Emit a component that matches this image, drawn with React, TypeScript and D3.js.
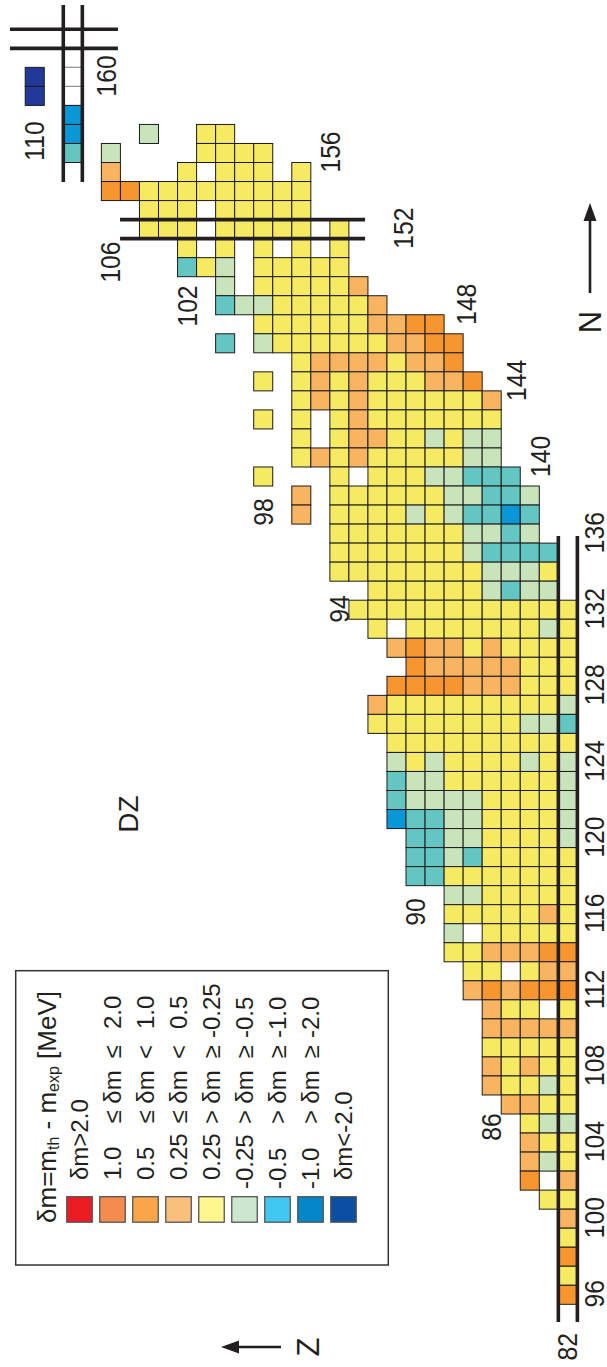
import React, { useEffect } from 'react';
import * as d3 from 'd3';

// ---------- data ----------
// rows of the nuclide chart: neutron number, highest proton number in the row string,
// and one code per proton number going down (Z0, Z0-1, ...). '.' = no cell
const ROW_N = [161,160,159,158,157,156,155,154,153,152,151,150,149,148,147,146,145,144,143,142,141,140,139,138,137,136,135,134,133,132,131,130,129,128,127,126,125,124,123,122,121,120,119,118,117,116,115,114,113,112,111,110,109,108,107,106,105,104,103,102,101,100,99,98,97,96];
const ROW_FIRST_Z = [108,110,110,108,108,108,106,106,104,104,102,102,100,100,98,100,96,98,96,98,96,96,98,96,96,94,94,94,92,93,92,91,90,91,92,92,91,91,91,91,91,90,90,90,88,88,88,88,87,87,86,86,86,86,86,85,84,84,84,84,83,82,82,82,82,82];
const ROW_CODES = [
  'w','d.w','d.w','b','b...g..yy','t.g....yyyy','l...y.yyy.y','ooyyyyyyyyy','yyy.yyyyy','yyy.yyyyy.y',
  'y.y.y.y.y','tyg.yyyyy','g.yyyyyl','tggyyyyyl','yyyyyylloo','t.gyyyyyylloo','yllllyllo','y.ylylyyyllo',
  'ylylyyyyyyl','y.y.ylyyyyyyy','y.yllyygygg','ylylyyyyygg','y...y.yyyggttt','l.yyyyyyggttg','l.yyyygygttbt',
  'yyyyyyyggtg','yyyyyyygtttt','yyyyyyyygggy','yyyyyygtgg','yyyyyyyyyyyy','y.yyyyyyygy','lollylyyyy',
  'olllllyyy','oooolllyyy','lyyyyyyyyyg','yyyyyyyyggt','yyyyyyyyyy','gygyyyygyg','tggyyyyyyg','tggggyyyyg',
  'bttggyyyyg','ttggyyyyg','ttgtyyyyy','ttyyyyyyy','ggyyyyy','yyyyyly','g.yyyyy','yyllloo','yy.yll','lolooo',
  'lyy.y','lllll','yyyyy','lylyy','lyygy','llyy','ygg','lyy','lgy','o.l','yy','l','y','o','y','o'
];
const CATEGORY_KEYS = ['o','l','y','g','t','b','d','w'];
const CATEGORY_FILLS = ['#f7962f','#f9b462','#f5ea62','#c9e3ba','#63c6c2','#0a97d8','#22399a','#ffffff'];

// magic-number double lines: kind, value, extent (in the other coordinate)
const MAGIC_KIND = ['z','n','z','n'];
const MAGIC_VALUE = [82,152,108,162];
const MAGIC_FROM = [135.37,105.02,163.28,110.8];
const MAGIC_TO = [94.07,92.15,153.98,105.13];

// tick labels
const Z_LABELS = [82,86,90,94,98,102,106,110];
const Z_LABEL_AT_N = [93.27,104.82,116.11,132.04,137.13,147.96,150.27,156.63];
const N_LABELS = [96,100,104,108,112,116,120,124,128,132,136,140,144,148,152,156,160];
const N_LABEL_AT_Z = [80.6,80.6,80.6,80.6,80.6,80.6,80.6,80.6,80.6,80.6,80.6,83.43,84.69,87.35,90.66,94.49,106.22];

// legend
const LEGEND_FILLS = ['#ec1c24','#f58b4c','#f9a64a','#fbbf7d','#fff68e','#cde6cf','#40c8f2','#0586c8','#0b4ea2'];
const LEGEND_SINGLE = ['δm>2.0','','','','','','','','δm<-2.0'];
const LEGEND_LOW = ['','1.0','0.5','0.25','0.25','-0.25','-0.5','-1.0',''];
const LEGEND_OP1 = ['','≤','≤','≤','>','>','>','>',''];
const LEGEND_OP2 = ['','≤','<','<','≥','≥','≥','≥',''];
const LEGEND_HIGH = ['','2.0','1.0','0.5','-0.25','-0.5','-1.0','-2.0',''];

const FONT = "'Liberation Sans', Arial, Helvetica, sans-serif";
const INK = '#231f20';
const W_ = 607;
const H_ = 1367;

export default function App() {
  useEffect(() => {
    document.body.style.margin = '0';
  }, []);

  const x = d3.scaleLinear().domain([108, 82]).range([63.3, 63.3 + 26 * 19.04]);
  const y = d3.scaleLinear().domain([162, 96]).range([29.3, 29.3 + 66 * 19.03]);
  const cw = x(81) - x(82);
  const ch = y(95) - y(96);
  const color = d3.scaleOrdinal<string, string>().domain(CATEGORY_KEYS).range(CATEGORY_FILLS);

  const cells = ROW_N.flatMap((n, i) =>
    ROW_CODES[i].split('').map((c, j) => ({ n, z: ROW_FIRST_Z[i] - j, c }))
  ).filter(d => d.c !== '.');

  const lines: { x1: number; y1: number; x2: number; y2: number }[] = [];
  MAGIC_KIND.forEach((k, i) => {
    const v = MAGIC_VALUE[i];
    if (k === 'z') {
      [x(v), x(v - 1)].forEach(xx => lines.push({ x1: xx, x2: xx, y1: y(MAGIC_FROM[i]), y2: y(MAGIC_TO[i]) }));
    } else {
      [y(v), y(v - 1)].forEach(yy => lines.push({ y1: yy, y2: yy, x1: x(MAGIC_FROM[i]), x2: x(MAGIC_TO[i]) }));
    }
  });

  const rotLabel = (cx: number, cy: number, text: string, key: string, size = 28, sx = 0.88) => (
    <text key={key} transform={`translate(${cx},${cy}) rotate(-90) scale(${sx},1)`}
      textAnchor="middle" dominantBaseline="central" fontSize={size} fill={INK} fontFamily={FONT}>{text}</text>
  );

  // legend geometry
  const legX0 = 79.5, legDX = 33, sq = 25.5, sqTop = 1196.7;
  const legText = (xc: number, yy: number, t: string, anchor: string, key: string, size = 24) => (
    <text key={key} transform={`translate(${xc},0) rotate(-90)`} x={-yy} y={0}
      textAnchor={anchor} dominantBaseline="central" fontSize={size} fill={INK} fontFamily={FONT}>{t}</text>
  );

  return (
    <svg width={W_} height={H_} style={{ position: 'absolute', left: 0, top: 0, background: '#fff' }}>
      <rect x={0} y={0} width={W_} height={H_} fill="#fff" />
      <g>
        {cells.map((d, i) => (
          <rect key={i} x={x(d.z)} y={y(d.n)} width={cw} height={ch}
            fill={color(d.c)} stroke={d.c === 'w' ? '#8a8a8a' : '#1c1c1c'} strokeWidth={1} />
        ))}
      </g>
      <g>
        {lines.map((l, i) => (
          <line key={i} x1={l.x1} y1={l.y1} x2={l.x2} y2={l.y2} stroke={INK} strokeWidth={3.6} />
        ))}
      </g>
      <g>
        {Z_LABELS.map((z, i) => rotLabel(x(z) + cw / 2, y(Z_LABEL_AT_N[i]) + ch / 2, String(z), 'z' + i))}
        {N_LABELS.map((n, i) => rotLabel(x(N_LABEL_AT_Z[i]) + cw / 2, y(n) + ch / 2 - 1, String(n), 'n' + i))}
      </g>
      {/* DZ */}
      {rotLabel(128, 814, 'DZ', 'dz', 28, 1)}
      {/* N arrow */}
      <line x1={590} y1={293} x2={590} y2={218} stroke={INK} strokeWidth={2.6} />
      <polygon points="590,203 583.5,221 596.5,221" fill={INK} />
      {rotLabel(590, 322, 'N', 'nlab', 31, 1)}
      {/* Z arrow */}
      <line x1={281} y1={1347} x2={236} y2={1347} stroke={INK} strokeWidth={2.6} />
      <polygon points="221,1347 239,1340.5 239,1353.5" fill={INK} />
      {rotLabel(308, 1347, 'Z', 'zlab', 31, 1)}
      {/* legend */}
      <rect x={15.7} y={970.7} width={372.6} height={294.3} fill="none" stroke="#333" strokeWidth={1.5} />
      <text transform={`translate(${legX0 - legDX},0) rotate(-90)`} x={-1223} y={0}
        dominantBaseline="central" fontSize={26} fill={INK} fontFamily={FONT}>
        δm=m<tspan fontSize={16} dy={6}>th</tspan><tspan dy={-6}> - m</tspan><tspan fontSize={16} dy={6}>exp</tspan><tspan dy={-6}> [MeV]</tspan>
      </text>
      {LEGEND_FILLS.map((f, k) => {
        const xc = legX0 + k * legDX;
        return (
          <g key={'leg' + k}>
            <rect x={xc - sq / 2} y={sqTop} width={sq} height={sq} fill={f} stroke="#555" strokeWidth={1.3} />
            {LEGEND_SINGLE[k]
              ? legText(xc, 1180, LEGEND_SINGLE[k], 'start', 's' + k)
              : [
                  legText(xc, LEGEND_LOW[k].startsWith('-') ? 1189 : 1180, LEGEND_LOW[k], 'start', 'a' + k),
                  legText(xc, 1117, LEGEND_OP1[k], 'middle', 'b' + k),
                  legText(xc, 1087, 'δm', 'middle', 'c' + k),
                  legText(xc, 1052, LEGEND_OP2[k], 'middle', 'd' + k),
                  legText(xc, LEGEND_HIGH[k].startsWith('-') ? 1038 : 1029, LEGEND_HIGH[k], 'start', 'e' + k),
                ]}
          </g>
        );
      })}
    </svg>
  );
}
